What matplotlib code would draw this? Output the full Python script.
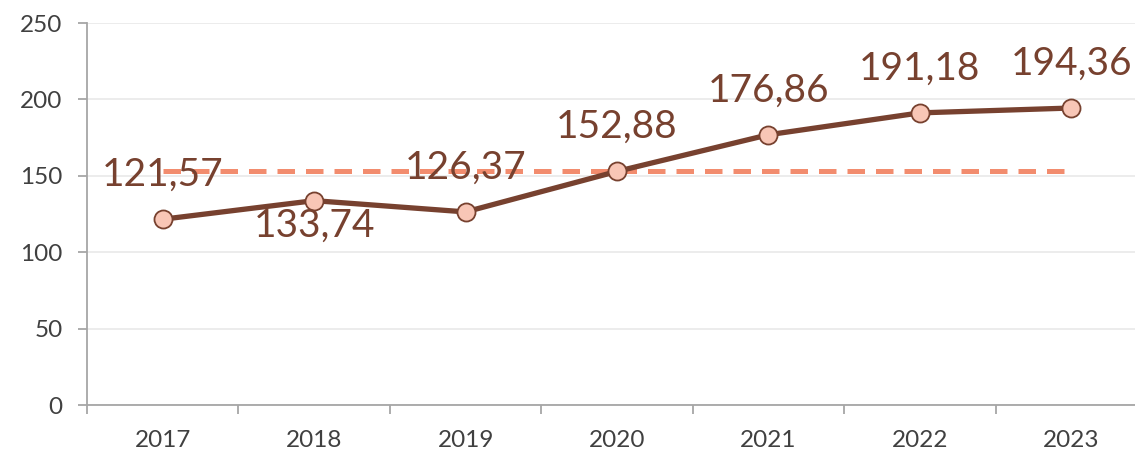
import matplotlib.pyplot as plt
import numpy as np

years = ['2017', '2018', '2019', '2020', '2021', '2022', '2023']
values = [121.57, 133.74, 126.37, 152.88, 176.86, 191.18, 194.36]
ref_value = 152.88
label_above = [True, False, True, True, True, True, True]
yticks = [0, 50, 100, 150, 200, 250]

brown = '#77412F'
dash_col = '#F28C6E'
marker_face = '#F8C6B6'

plt.rcParams['font.family'] = ['Lato', 'DejaVu Sans']

fig = plt.figure(figsize=(11.35, 4.55), dpi=100)
W, H = 1135, 455
ax = fig.add_axes([87 / W, (H - 405) / H, (1147 - 87) / W, (405 - 23) / H])

x = np.arange(len(years))
ax.plot([x[0], x[-1]], [ref_value, ref_value], color=dash_col, lw=3.6,
        dashes=(3.5, 2.2), solid_capstyle='round', zorder=2)
ax.plot(x, values, color=brown, lw=3.8, marker='o', markersize=13,
        markerfacecolor=marker_face, markeredgecolor=brown, markeredgewidth=1.3, zorder=3)

for xi, v, up in zip(x, values, label_above):
    off = 32 if up else -18
    ax.annotate(f'{v:.2f}'.replace('.', ','), (xi, v), xytext=(0, off), textcoords='offset points',
                ha='center', va='center', fontsize=28, color=brown, zorder=4)

ax.set_xlim(-0.5, len(years) - 0.5)
ax.set_ylim(0, 250)
ax.set_yticks(yticks)
ax.set_xticks(x)
ax.set_xticklabels(years)
ax.set_xticks(np.arange(-0.5, len(years), 1), minor=True)
ax.tick_params(axis='x', which='major', length=0, pad=18, labelsize=17.5, labelcolor='#404040')
ax.tick_params(axis='x', which='minor', length=6.5, width=1.3, color='#A6A6A6')
ax.tick_params(axis='y', length=6.5, width=1.3, color='#A6A6A6', pad=11, labelsize=17.5, labelcolor='#404040')
ax.grid(axis='y', color='#EBEBEB', lw=1.3, zorder=0)
for s in ['top', 'right']:
    ax.spines[s].set_visible(False)
for s in ['left', 'bottom']:
    ax.spines[s].set_color('#A6A6A6')
    ax.spines[s].set_linewidth(1.3)
ax.set_axisbelow(True)

fig.savefig('out.png', dpi=100)
